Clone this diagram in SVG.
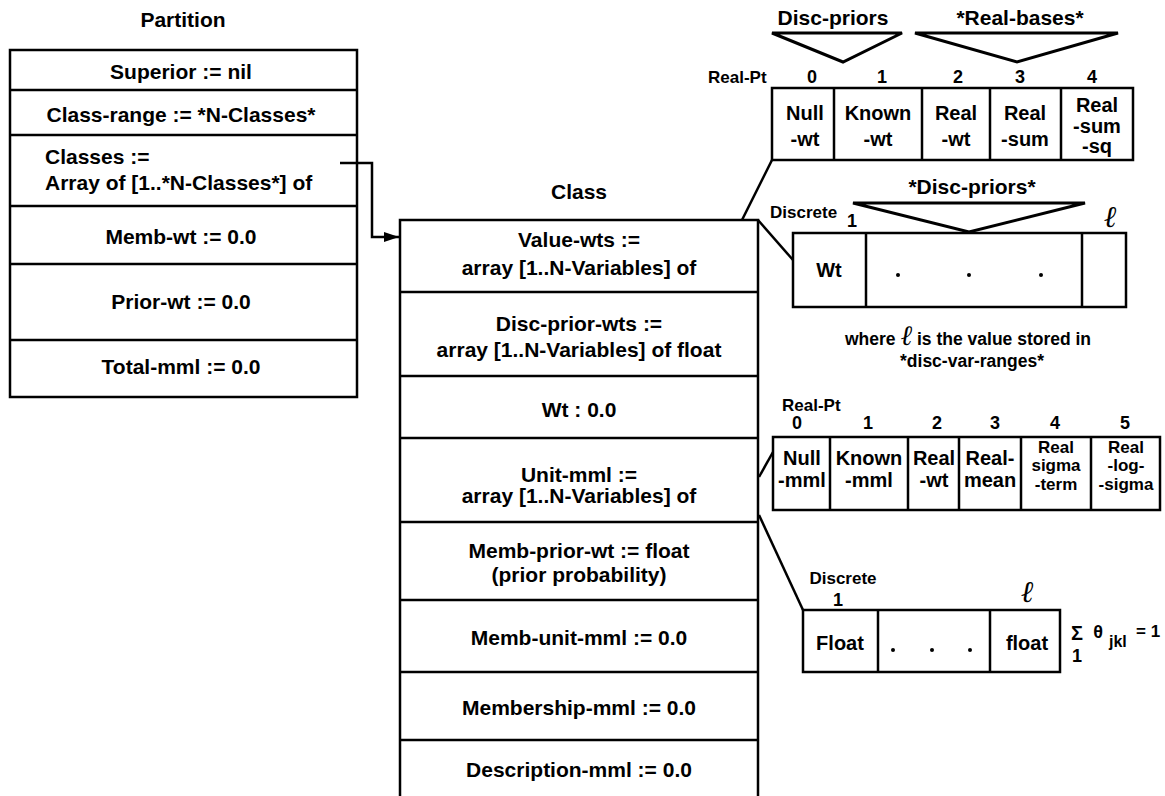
<svg xmlns="http://www.w3.org/2000/svg" width="1165" height="796" viewBox="0 0 1165 796">
<style>
text{font-family:"Liberation Sans",Arial,Helvetica,sans-serif;font-weight:bold;fill:#000}
.t{font-size:21px}
.c{text-anchor:middle}
.cell{font-size:20px;text-anchor:middle}
.cell3{font-size:17px;text-anchor:middle}
.sm{font-size:17px}
.num{font-size:18px;text-anchor:middle}
.ell{font-family:"Liberation Serif","DejaVu Serif",serif;font-weight:normal;font-style:italic}
.box{fill:#fff;stroke:#000;stroke-width:2.5}
.ln{fill:none;stroke:#000;stroke-width:2.5}
.tri{fill:none;stroke:#000;stroke-width:3;stroke-linejoin:miter}
</style>
<defs>
<marker id="ah" markerUnits="userSpaceOnUse" markerWidth="15" markerHeight="10" refX="15" refY="5" orient="auto">
<path d="M0,0 L15,5 L0,10 z" fill="#000"/>
</marker>
</defs>
<rect width="1165" height="796" fill="#fff"/>

<g id="partition">
<text class="t c" x="183" y="27">Partition</text>
<rect class="box" x="10" y="50" width="347" height="347"/>
<path class="ln" d="M10,90H357M10,135H357M10,206H357M10,264H357M10,340H357"/>
<text class="t c" x="181" y="79">Superior := nil</text>
<text class="t c" x="181" y="122">Class-range := *N-Classes*</text>
<text class="t" x="45" y="164">Classes :=</text>
<text class="t" x="45" y="190">Array of [1..*N-Classes*] of</text>
<text class="t c" x="181" y="244">Memb-wt := 0.0</text>
<text class="t c" x="181" y="309">Prior-wt := 0.0</text>
<text class="t c" x="181" y="374">Total-mml := 0.0</text>
</g>

<g id="class">
<text class="t c" x="579" y="199">Class</text>
<path class="ln" d="M400,796V220H758V796"/>
<path class="ln" d="M400,292H758M400,376H758M400,438H758M400,522H758M400,600H758M400,672H758M400,740H758"/>
<text class="t c" x="579" y="247">Value-wts :=</text>
<text class="t c" x="579" y="275">array [1..N-Variables] of</text>
<text class="t c" x="579" y="331">Disc-prior-wts :=</text>
<text class="t c" x="579" y="357">array [1..N-Variables] of float</text>
<text class="t c" x="579" y="417">Wt : 0.0</text>
<text class="t c" x="579" y="482">Unit-mml :=</text>
<text class="t c" x="579" y="503">array [1..N-Variables] of</text>
<text class="t c" x="579" y="558">Memb-prior-wt := float</text>
<text class="t c" x="579" y="582">(prior probability)</text>
<text class="t c" x="579" y="645">Memb-unit-mml := 0.0</text>
<text class="t c" x="579" y="715">Membership-mml := 0.0</text>
<text class="t c" x="579" y="777">Description-mml := 0.0</text>
</g>

<g id="real-pt-wts">
<text class="t c" x="833" y="25">Disc-priors</text>
<text class="t c" x="1020" y="25">*Real-bases*</text>
<polygon class="tri" points="772,33 902,33 843,62"/>
<polygon class="tri" points="915,33 1118,33 1017,62"/>
<text class="sm" x="708" y="83">Real-Pt</text>
<text class="num" x="812" y="83">0</text>
<text class="num" x="882" y="83">1</text>
<text class="num" x="958" y="83">2</text>
<text class="num" x="1020" y="83">3</text>
<text class="num" x="1092" y="83">4</text>
<rect class="box" x="772" y="88" width="361" height="72"/>
<path class="ln" d="M834,88V160M922,88V160M990,88V160M1061,88V160"/>
<text class="cell" x="805" y="120">Null</text>
<text class="cell" x="805" y="146">-wt</text>
<text class="cell" x="878" y="120">Known</text>
<text class="cell" x="878" y="146">-wt</text>
<text class="cell" x="956" y="120">Real</text>
<text class="cell" x="956" y="146">-wt</text>
<text class="cell" x="1025" y="120">Real</text>
<text class="cell" x="1025" y="146">-sum</text>
<text class="cell" x="1097" y="112">Real</text>
<text class="cell" x="1097" y="133">-sum</text>
<text class="cell" x="1097" y="153">-sq</text>
</g>

<g id="discrete-wts">
<text class="t c" x="972" y="194">*Disc-priors*</text>
<polygon class="tri" points="853,203 1085,203 969,232"/>
<text class="sm" x="770" y="218">Discrete</text>
<text class="num" x="852" y="227">1</text>
<text class="ell" x="1110" y="227" font-size="30" text-anchor="middle">ℓ</text>
<rect class="box" x="793" y="233" width="333" height="74"/>
<path class="ln" d="M866,233V307M1082,233V307"/>
<text class="cell" x="829" y="277">Wt</text>
<circle cx="898" cy="275" r="2"/>
<circle cx="969" cy="275" r="2"/>
<circle cx="1041" cy="275" r="2"/>
<text x="845" y="345" font-size="17.5">where <tspan class="ell" font-size="28">ℓ</tspan> is the value stored in</text>
<text class="c" x="972" y="367" font-size="17.5">*disc-var-ranges*</text>
</g>

<g id="real-pt-mml">
<text class="sm" x="782" y="411">Real-Pt</text>
<text class="num" x="797" y="429">0</text>
<text class="num" x="868" y="429">1</text>
<text class="num" x="937" y="429">2</text>
<text class="num" x="995" y="429">3</text>
<text class="num" x="1055" y="429">4</text>
<text class="num" x="1125" y="429">5</text>
<rect class="box" x="773" y="437" width="387" height="73"/>
<path class="ln" d="M830,437V510M908,437V510M959,437V510M1021,437V510M1091,437V510"/>
<text class="cell" x="802" y="465">Null</text>
<text class="cell" x="802" y="487">-mml</text>
<text class="cell" x="869" y="465">Known</text>
<text class="cell" x="869" y="487">-mml</text>
<text class="cell" x="934" y="465">Real</text>
<text class="cell" x="934" y="487">-wt</text>
<text class="cell" x="990" y="465">Real-</text>
<text class="cell" x="990" y="487">mean</text>
<text class="cell3" x="1056" y="453">Real</text>
<text class="cell3" x="1056" y="471">sigma</text>
<text class="cell3" x="1056" y="490">-term</text>
<text class="cell3" x="1126" y="453">Real</text>
<text class="cell3" x="1126" y="471">-log-</text>
<text class="cell3" x="1126" y="490">-sigma</text>
</g>

<g id="discrete-mml">
<text class="sm c" x="843" y="584">Discrete</text>
<text class="num" x="838" y="606">1</text>
<text class="ell" x="1027" y="602" font-size="30" text-anchor="middle">ℓ</text>
<rect class="box" x="803" y="610" width="257" height="62"/>
<path class="ln" d="M878,610V672M990,610V672"/>
<text class="cell" x="840" y="650" font-size="19">Float</text>
<circle cx="893" cy="650" r="2"/>
<circle cx="932" cy="650" r="2"/>
<circle cx="970" cy="650" r="2"/>
<text class="cell" x="1027" y="650" font-size="19">float</text>
<text x="1077" y="640" font-size="20" font-weight="normal" text-anchor="middle">Σ</text>
<text class="num" x="1077" y="662">1</text>
<text x="1098" y="638" font-size="18" font-weight="normal" text-anchor="middle">θ</text>
<text x="1109" y="647" font-size="16">jkl</text>
<text x="1136" y="637" font-size="17">= 1</text>
</g>

<g id="connectors">
<polyline class="ln" points="340,163 372,163 372,237 399,237" marker-end="url(#ah)"/>
<line class="ln" x1="772" y1="160" x2="742" y2="220"/>
<line class="ln" x1="758" y1="220" x2="793" y2="260"/>
<line class="ln" x1="759" y1="477" x2="773" y2="452"/>
<line class="ln" x1="759" y1="515" x2="803" y2="610"/>
</g>
</svg>
